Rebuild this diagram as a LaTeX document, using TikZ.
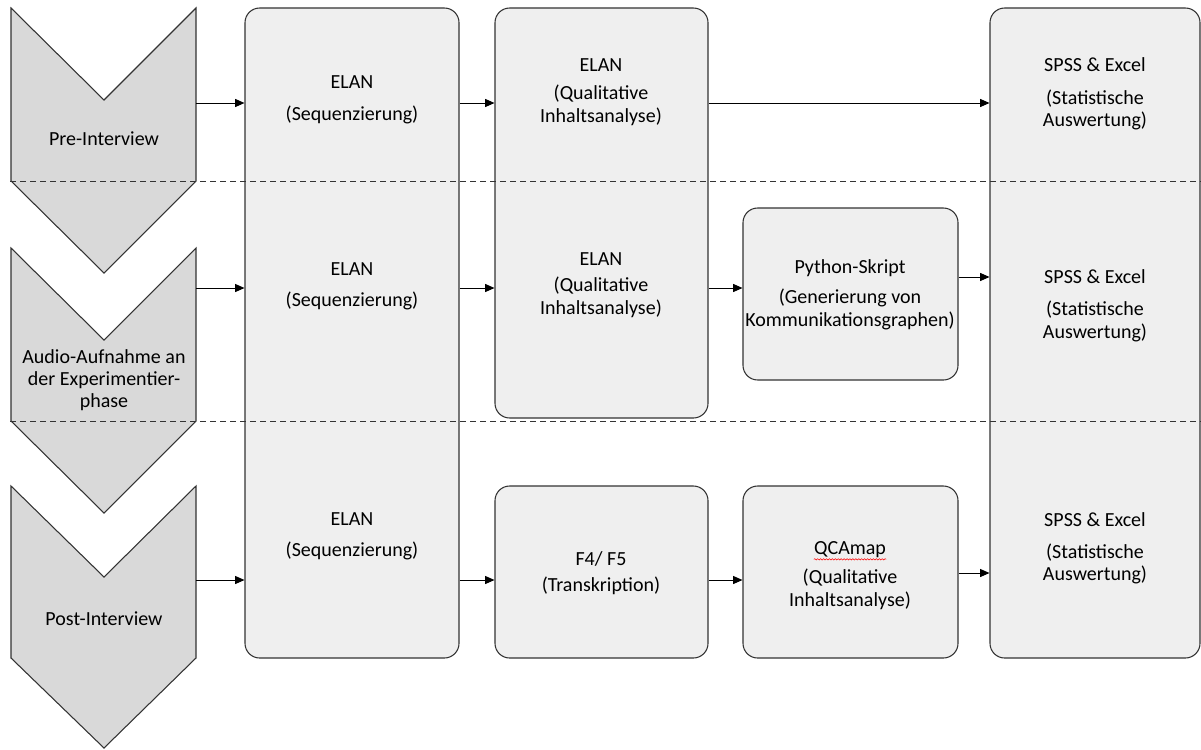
\documentclass[tikz,border=0pt]{standalone}
\usepackage{fontspec}
\setmainfont{Carlito}
\usetikzlibrary{arrows.meta,fit,decorations.pathmorphing}
\definecolor{boxfill}{HTML}{EFEFEF}
\definecolor{chevfill}{HTML}{D9D9D9}
\definecolor{edge}{HTML}{333333}
\begin{document}
\begin{tikzpicture}[x=0.75pt,y=-0.75pt,
  box/.style={draw=edge, fill=boxfill, line width=0.8pt, rounded corners=11pt, inner sep=0pt},
  chev/.style={draw=edge, fill=chevfill, line width=0.8pt},
  txt/.style={anchor=base, inner sep=0pt, font=\fontsize{15}{18}\selectfont, text=black},
  arr/.style={line width=0.75pt, -{Triangle[length=7pt,width=6pt]}},
  sep/.style={dash pattern=on 4.5pt off 3pt, line width=0.75pt, draw=edge},
  spell/.style={draw=red, line width=0.4pt, decorate, decoration={snake, amplitude=0.5pt, segment length=2.2pt}}]

\useasboundingbox (0,0) rectangle (1201,749);

% chevrons
\path[chev] (11,8) -- (104,100) -- (196,8) -- (196,181) -- (104,273) -- (11,181) -- cycle;
\path[chev] (11,248) -- (104,340) -- (196,248) -- (196,421) -- (104,513) -- (11,421) -- cycle;
\path[chev] (11,486) -- (104,577) -- (196,486) -- (196,658) -- (104,748) -- (11,658) -- cycle;
\node[txt] (pre) at (104,145) {Pre-Interview};
\node[txt] (auda) at (104,363) {Audio-Aufnahme an};
\node[txt] (audb) at (104,385) {der Experimentier-};
\node[txt] (audc) at (104,407) {phase};
\node[txt] (post) at (104,625) {Post-Interview};
\coordinate (preR) at (196,103);
\coordinate (audR) at (196,288);
\coordinate (postR) at (196,580);

% boxes
\node[box, fit={(245,8) (459,658)}] (elan) {};
\node[box, fit={(495,8) (708,418)}] (qual) {};
\node[box, fit={(743,208) (958,380)}] (python) {};
\node[box, fit={(495,486) (708,658)}] (f4) {};
\node[box, fit={(743,486) (958,658)}] (qca) {};
\node[box, fit={(990,8) (1200,658)}] (spss) {};

% texts
\node[txt] (e1a) at (352,89) {ELAN};
\node[txt] (e1b) at (352,120) {(Sequenzierung)};
\node[txt] (e2a) at (352,275) {ELAN};
\node[txt] (e2b) at (352,306) {(Sequenzierung)};
\node[txt] (e3a) at (352,525) {ELAN};
\node[txt] (e3b) at (352,556) {(Sequenzierung)};

\node[txt] (q1a) at (601,71) {ELAN};
\node[txt] (q1b) at (601,99) {(Qualitative};
\node[txt] (q1c) at (601,122) {Inhaltsanalyse)};
\node[txt] (q2a) at (601,265) {ELAN};
\node[txt] (q2b) at (601,291) {(Qualitative};
\node[txt] (q2c) at (601,314) {Inhaltsanalyse)};

\node[txt] (pya) at (850,273) {Python-Skript};
\node[txt] (pyb) at (850,303) {(Generierung von};
\node[txt] (pyc) at (850,326) {Kommunikationsgraphen)};

\node[txt] (f4a) at (601,565) {F4/ F5};
\node[txt] (f4b) at (601,591) {(Transkription)};

\node[txt] (qca1) at (850,554) {QCAmap};
\node[txt] (qca2) at (850,583) {(Qualitative};
\node[txt] (qca3) at (850,606) {Inhaltsanalyse)};
\draw[spell] ([yshift=-4pt]qca1.base west) -- ([yshift=-4pt]qca1.base east);

\node[txt] (s1a) at (1095,71) {SPSS \& Excel};
\node[txt] (s1b) at (1095,104) {(Statistische};
\node[txt] (s1c) at (1095,126) {Auswertung)};
\node[txt] (s2a) at (1095,283) {SPSS \& Excel};
\node[txt] (s2b) at (1095,315) {(Statistische};
\node[txt] (s2c) at (1095,338) {Auswertung)};
\node[txt] (s3a) at (1095,526) {SPSS \& Excel};
\node[txt] (s3b) at (1095,558) {(Statistische};
\node[txt] (s3c) at (1095,580) {Auswertung)};

% connectors
\draw[arr] (preR) -- (preR -| elan.west);
\draw[arr] (audR) -- (audR -| elan.west);
\draw[arr] (postR) -- (postR -| elan.west);
\draw[arr] (elan.east |- preR) -- (qual.west |- preR);
\draw[arr] (elan.east |- audR) -- (qual.west |- audR);
\draw[arr] (elan.east |- postR) -- (f4.west |- postR);
\draw[arr] (qual.east |- preR) -- (spss.west |- preR);
\draw[arr] (qual.east |- audR) -- (python.west |- audR);
\coordinate (pyOut) at (958,277);
\draw[arr] (python.east |- pyOut) -- (spss.west |- pyOut);
\draw[arr] (f4.east |- postR) -- (qca.west |- postR);
\coordinate (qcaOut) at (958,573);
\draw[arr] (qca.east |- qcaOut) -- (spss.west |- qcaOut);

% dashed separators
\coordinate (d1l) at (10,181);
\coordinate (d1r) at (1201,181);
\coordinate (d2l) at (10,421);
\coordinate (d2r) at (1201,421);
\draw[sep] (d1l) -- (d1r);
\draw[sep] (d2l) -- (d2r);
\end{tikzpicture}
\end{document}
